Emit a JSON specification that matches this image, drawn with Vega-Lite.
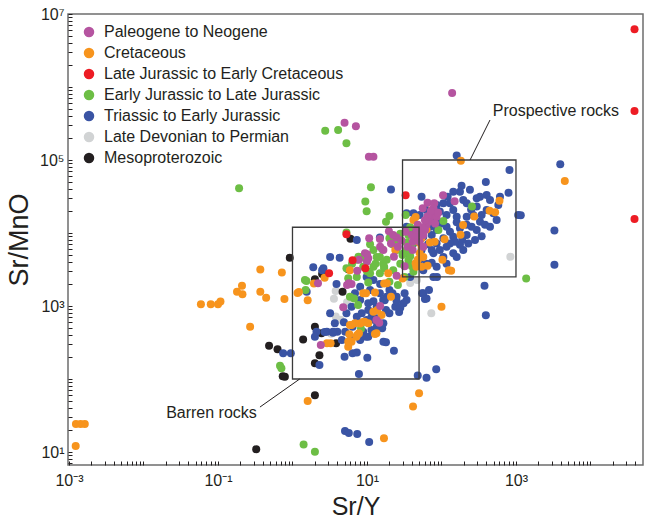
{
"$schema":"https://vega.github.io/schema/vega-lite/v6.json",
"width":575,"height":451,
"autosize":{"type":"none"},
"padding":{"left":68,"top":14,"right":6,"bottom":56},
"config":{
 "view":{"stroke":"#6e6e6e","strokeWidth":1.5},
 "font":"Liberation Sans",
 "axis":{"domain":false,"grid":false,"tickColor":"#231F20","tickSize":-4,"labelFont":"Liberation Sans","labelFontSize":16,"labelColor":"#231F20","titleFont":"Liberation Sans","titleFontSize":25,"titleFontWeight":"normal","titleColor":"#231F20","labelOverlap":false,"labelFlush":false}
},
"datasets":{
"pts":[
{"c":"D","x":840,"y":4740},{"c":"D","x":73,"y":795},{"c":"D","x":3.8,"y":1600},{"c":"D","x":3.6,"y":1260},{"c":"D","x":5.4,"y":1130},{"c":"D","x":4.4,"y":646},{"c":"D","x":3.8,"y":720},{"c":"D","x":3.3,"y":417},{"c":"D","x":38,"y":2070},{"c":"D","x":47,"y":2280},
{"c":"M","x":6.0,"y":8350},{"c":"M","x":0.92,"y":4590},{"c":"M","x":5.6,"y":3200},{"c":"M","x":2.0,"y":2320},{"c":"M","x":2.5,"y":2750},{"c":"M","x":4.7,"y":1570},{"c":"M","x":2.0,"y":521},{"c":"M","x":2.45,"y":423},{"c":"M","x":1.39,"y":349},{"c":"M","x":0.485,"y":286},{"c":"M","x":0.63,"y":255},{"c":"M","x":3.85,"y":308},{"c":"M","x":2.3,"y":211},{"c":"M","x":2.0,"y":164},{"c":"M","x":0.74,"y":109},{"c":"M","x":0.79,"y":107},{"c":"M","x":2.0,"y":60},{"c":"M","x":0.326,"y":10.9},
{"c":"B","x":160,"y":115000},{"c":"B","x":3930,"y":87300},{"c":"B","x":818,"y":73000},{"c":"B","x":394,"y":50000},{"c":"B","x":794,"y":35700},{"c":"B","x":1160,"y":17500},{"c":"B","x":3280,"y":10800},{"c":"B","x":3280,"y":3680},{"c":"B","x":378,"y":1900},{"c":"B","x":394,"y":745},{"c":"B","x":21,"y":39600},{"c":"B","x":1070,"y":17700},
{"c":"B","x":54,"y":31500},{"c":"B","x":121,"y":31500},{"c":"B","x":186,"y":44500},{"c":"B","x":177,"y":36800},{"c":"B","x":404,"y":33200},{"c":"B","x":329,"y":31500},{"c":"B","x":448,"y":28300},{"c":"B","x":218,"y":25500},{"c":"B","x":196,"y":28300},{"c":"B","x":130,"y":25500},{"c":"B","x":86,"y":24200},{"c":"B","x":63,"y":20700},{"c":"B","x":51,"y":17700},{"c":"B","x":42,"y":18600},{"c":"B","x":34,"y":18600},{"c":"B","x":579,"y":24200},{"c":"B","x":297,"y":23000},{"c":"B","x":404,"y":20700},{"c":"B","x":550,"y":15100},{"c":"B","x":346,"y":17700},{"c":"B","x":218,"y":16700},{"c":"B","x":160,"y":16700},{"c":"B","x":117,"y":17700},{"c":"B","x":86,"y":15100},{"c":"B","x":70,"y":12200},{"c":"B","x":117,"y":12200},{"c":"B","x":177,"y":11600},{"c":"B","x":254,"y":12200},{"c":"B","x":329,"y":14300},{"c":"B","x":448,"y":12200},{"c":"B","x":218,"y":9400},{"c":"B","x":144,"y":8900},{"c":"B","x":106,"y":8500},{"c":"B","x":86,"y":7200},{"c":"B","x":117,"y":6500},{"c":"B","x":177,"y":6900},{"c":"B","x":282,"y":8000},{"c":"B","x":196,"y":5850},{"c":"B","x":144,"y":5300},{"c":"B","x":106,"y":4700},{"c":"B","x":78,"y":5300},{"c":"B","x":63,"y":3800},{"c":"B","x":86,"y":3460},{"c":"B","x":57,"y":3100},{"c":"B","x":78,"y":2500},{"c":"B","x":51,"y":4300},{"c":"B","x":42,"y":3460},{"c":"B","x":57,"y":1490},{"c":"B","x":63,"y":1270},{"c":"B","x":54,"y":5850},{"c":"B","x":74,"y":9400},{"c":"B","x":152,"y":7600},{"c":"B","x":95,"y":5850},{"c":"B","x":38,"y":2500},{"c":"B","x":297,"y":11000},{"c":"B","x":86,"y":11000},{"c":"B","x":57,"y":8900},{"c":"B","x":42,"y":7200},{"c":"B","x":34,"y":5300},{"c":"B","x":218,"y":13000},{"c":"B","x":130,"y":10400},
{"c":"B","x":34,"y":12200},{"c":"B","x":40,"y":9900},{"c":"B","x":95,"y":19700},{"c":"B","x":144,"y":20700},{"c":"B","x":267,"y":17700},{"c":"B","x":497,"y":18600},{"c":"B","x":610,"y":31500},{"c":"B","x":297,"y":30000},{"c":"B","x":241,"y":39000},{"c":"B","x":144,"y":36800},{"c":"B","x":106,"y":25500},{"c":"B","x":130,"y":7200},{"c":"B","x":160,"y":4700},{"c":"B","x":117,"y":3800},{"c":"B","x":74,"y":3900},{"c":"B","x":346,"y":9000},{"c":"B","x":384,"y":13000},{"c":"B","x":229,"y":7200},{"c":"B","x":74,"y":5850},{"c":"B","x":100,"y":13500},{"c":"B","x":160,"y":14000},{"c":"B","x":250,"y":21000},{"c":"B","x":190,"y":8000},{"c":"B","x":66,"y":7000},
{"c":"B","x":7.3,"y":8000},{"c":"B","x":14.9,"y":8700},{"c":"B","x":3.2,"y":4700},{"c":"B","x":4.3,"y":4600},{"c":"B","x":1.9,"y":3400},{"c":"B","x":2.5,"y":3100},{"c":"B","x":3.9,"y":2000},{"c":"B","x":8.1,"y":1840},{"c":"B","x":11,"y":1660},{"c":"B","x":14.9,"y":1490},{"c":"B","x":20,"y":1660},{"c":"B","x":25,"y":1340},{"c":"B","x":32,"y":1490},{"c":"B","x":31,"y":1090},{"c":"B","x":24,"y":980},{"c":"B","x":18,"y":880},{"c":"B","x":13.5,"y":980},{"c":"B","x":10.4,"y":1090},{"c":"B","x":8.1,"y":1210},{"c":"B","x":6.2,"y":980},{"c":"B","x":5.3,"y":794},{"c":"B","x":7.3,"y":714},{"c":"B","x":9.9,"y":643},{"c":"B","x":13.5,"y":678},{"c":"B","x":20,"y":794},{"c":"B","x":3.2,"y":794},{"c":"B","x":3.7,"y":579},{"c":"B","x":2.9,"y":445},{"c":"B","x":2.1,"y":445},{"c":"B","x":2.0,"y":380},{"c":"B","x":8.9,"y":445},{"c":"B","x":11.5,"y":469},{"c":"B","x":8.1,"y":342},{"c":"B","x":16.6,"y":324},{"c":"B","x":6.2,"y":361},{"c":"B","x":5.1,"y":445},{"c":"B","x":18.4,"y":1340},{"c":"B","x":6.9,"y":1490},{"c":"B","x":10.4,"y":880},{"c":"B","x":1.55,"y":1570},{"c":"B","x":2.6,"y":3300},
{"c":"B","x":12.2,"y":2270},{"c":"B","x":9.9,"y":2500},{"c":"B","x":25,"y":1160},{"c":"B","x":34,"y":1210},{"c":"B","x":16.5,"y":1210},{"c":"B","x":12.2,"y":1160},{"c":"B","x":8.5,"y":794},{"c":"B","x":11.5,"y":714},{"c":"B","x":16.6,"y":580},{"c":"B","x":4.9,"y":600},{"c":"B","x":4.0,"y":445},{"c":"B","x":6.4,"y":520},{"c":"B","x":13.5,"y":520},{"c":"B","x":10.4,"y":380},{"c":"B","x":4.6,"y":342},{"c":"B","x":3.5,"y":445},{"c":"B","x":15,"y":2000},{"c":"B","x":22,"y":1500},{"c":"B","x":28,"y":950},
{"c":"B","x":5.0,"y":202},{"c":"B","x":6.4,"y":225},{"c":"B","x":7.3,"y":230},{"c":"B","x":7.8,"y":117},{"c":"B","x":10.1,"y":195},{"c":"B","x":23,"y":244},{"c":"B","x":18,"y":318},{"c":"B","x":48,"y":112},{"c":"B","x":63,"y":104},{"c":"B","x":85,"y":136},{"c":"B","x":0.75,"y":225},{"c":"B","x":0.95,"y":225},{"c":"B","x":2.3,"y":156},{"c":"B","x":3.5,"y":430},{"c":"B","x":2.7,"y":440},{"c":"B","x":9.7,"y":380},{"c":"B","x":16,"y":494},{"c":"B","x":12.6,"y":645},{"c":"B","x":27,"y":830},{"c":"B","x":17.3,"y":1200},{"c":"B","x":55,"y":1490},{"c":"B","x":60,"y":1250},{"c":"B","x":68,"y":1660},{"c":"B","x":87,"y":2500},{"c":"B","x":5.07,"y":19.4},{"c":"B","x":5.7,"y":18.2},{"c":"B","x":7.4,"y":17.7},{"c":"B","x":10.7,"y":13.7},
{"c":"G","x":0.192,"y":40900},{"c":"G","x":2.75,"y":252000},{"c":"G","x":4.1,"y":257000},{"c":"G","x":5.3,"y":169000},{"c":"G","x":11.3,"y":42300},{"c":"G","x":9.5,"y":27000},{"c":"G","x":9.9,"y":19800},{"c":"G","x":20,"y":17100},{"c":"G","x":18,"y":14300},{"c":"G","x":257,"y":23000},{"c":"G","x":1370,"y":2390},{"c":"G","x":5.3,"y":10200},{"c":"G","x":1.54,"y":2200},{"c":"G","x":1.5,"y":1660},{"c":"G","x":0.68,"y":152},{"c":"G","x":0.71,"y":140},{"c":"G","x":1.41,"y":12.7},{"c":"G","x":2.0,"y":10.1},{"c":"G","x":7.7,"y":4740},{"c":"G","x":8.3,"y":490},{"c":"G","x":33,"y":17700},{"c":"G","x":106,"y":14600},{"c":"G","x":91,"y":11000},{"c":"G","x":54,"y":10400},{"c":"G","x":36,"y":9400},{"c":"G","x":20,"y":8500},{"c":"G","x":12.2,"y":5850},{"c":"G","x":7.3,"y":4300},{"c":"G","x":9.9,"y":4300},{"c":"G","x":8.9,"y":3460},{"c":"G","x":12.2,"y":3460},{"c":"G","x":11,"y":2800},{"c":"G","x":14.9,"y":2800},{"c":"G","x":7.3,"y":2500},{"c":"G","x":5.6,"y":2400},{"c":"G","x":22.5,"y":3100},{"c":"G","x":28,"y":3800},{"c":"G","x":32,"y":2500},{"c":"G","x":42,"y":2950},{"c":"G","x":1.47,"y":2270},{"c":"G","x":5.9,"y":1340},{"c":"G","x":7.6,"y":1030},{"c":"G","x":26,"y":1940},{"c":"G","x":14.9,"y":4700},{"c":"G","x":18.4,"y":4300},{"c":"G","x":25,"y":5850},{"c":"G","x":34,"y":7400},{"c":"G","x":40,"y":6900},{"c":"G","x":51,"y":10400},{"c":"G","x":20,"y":2150},{"c":"G","x":16,"y":6000},{"c":"G","x":22,"y":7000},{"c":"G","x":30,"y":5000},{"c":"G","x":45,"y":8500},{"c":"G","x":38,"y":12000},{"c":"G","x":28,"y":9800},{"c":"G","x":13,"y":3800},{"c":"G","x":17,"y":3300},{"c":"G","x":10,"y":3000},{"c":"G","x":36,"y":4200},{"c":"G","x":40,"y":3500},
{"c":"G","x":5.3,"y":3300},{"c":"G","x":6.3,"y":3800},{"c":"G","x":8.5,"y":4700},{"c":"G","x":13.5,"y":4700},{"c":"G","x":16.5,"y":3800},{"c":"G","x":10.4,"y":2100},{"c":"G","x":6.7,"y":1270},{"c":"G","x":17,"y":3460},{"c":"G","x":31,"y":5300},{"c":"G","x":38,"y":4800},{"c":"G","x":34,"y":5850},{"c":"G","x":40,"y":3600},{"c":"G","x":24,"y":8000},{"c":"G","x":11,"y":7000},
{"c":"O","x":0.00124,"y":24.2},{"c":"O","x":0.00143,"y":24.2},{"c":"O","x":0.00163,"y":24.2},{"c":"O","x":0.00123,"y":12.1},{"c":"O","x":0.059,"y":1054},{"c":"O","x":0.08,"y":1054},{"c":"O","x":0.1,"y":1054},{"c":"O","x":0.108,"y":1150},{"c":"O","x":0.18,"y":1570},{"c":"O","x":0.213,"y":1445},{"c":"O","x":0.21,"y":1900},{"c":"O","x":0.37,"y":3160},{"c":"O","x":0.37,"y":1570},{"c":"O","x":0.443,"y":1300},{"c":"O","x":0.27,"y":521},{"c":"O","x":0.72,"y":2880},{"c":"O","x":0.78,"y":1250},{"c":"O","x":1.17,"y":1510},{"c":"O","x":1.22,"y":1560},{"c":"O","x":1.6,"y":1200},{"c":"O","x":1.6,"y":50},{"c":"O","x":41.5,"y":42},{"c":"O","x":50,"y":64},{"c":"O","x":16.9,"y":15.4},{"c":"O","x":182,"y":97700},{"c":"O","x":4520,"y":51500},{"c":"O","x":600,"y":27700},{"c":"O","x":525,"y":19200},{"c":"O","x":442,"y":20200},{"c":"O","x":100,"y":980},{"c":"O","x":135,"y":3050},{"c":"O","x":65,"y":3570},{"c":"O","x":45,"y":16600},{"c":"O","x":275,"y":16800},{"c":"O","x":195,"y":12900},{"c":"O","x":180,"y":9500},{"c":"O","x":110,"y":8200},{"c":"O","x":81,"y":7600},{"c":"O","x":6.2,"y":550},{"c":"O","x":7.8,"y":423},{"c":"O","x":7.2,"y":380},{"c":"O","x":9.3,"y":610},{"c":"O","x":8.1,"y":575},{"c":"O","x":13.4,"y":423},{"c":"O","x":5.6,"y":277},{"c":"O","x":6.2,"y":324},{"c":"O","x":3.25,"y":308},{"c":"O","x":13.8,"y":880},{"c":"O","x":9.7,"y":1490},{"c":"O","x":30,"y":2390},{"c":"O","x":18.5,"y":2050},{"c":"O","x":54,"y":3460},{"c":"O","x":45,"y":3840},{"c":"O","x":63,"y":11200},{"c":"O","x":54,"y":8500},{"c":"O","x":54,"y":6500},{"c":"O","x":51,"y":5300},{"c":"O","x":48,"y":4300},{"c":"O","x":46,"y":3460},{"c":"O","x":70,"y":7400},{"c":"O","x":103,"y":4300},{"c":"O","x":126,"y":3100},{"c":"O","x":42,"y":15100},{"c":"O","x":24,"y":5850},{"c":"O","x":19.3,"y":2800},{"c":"O","x":17,"y":2040},{"c":"O","x":5.9,"y":3100},{"c":"O","x":2.7,"y":2440},{"c":"O","x":1.94,"y":2040},{"c":"O","x":8.9,"y":1490},{"c":"O","x":12.8,"y":1530},{"c":"O","x":21,"y":1340},{"c":"O","x":12.2,"y":836},{"c":"O","x":15.7,"y":753},{"c":"O","x":5.9,"y":550},{"c":"O","x":6.9,"y":580},{"c":"O","x":8.9,"y":604},{"c":"O","x":10.4,"y":580},{"c":"O","x":5.8,"y":409},{"c":"O","x":7.4,"y":401},{"c":"O","x":12.8,"y":413},{"c":"O","x":5.6,"y":324},{"c":"O","x":2.9,"y":308},{"c":"O","x":74,"y":20700},{"c":"O","x":57,"y":4700},{"c":"O","x":50,"y":7500},
{"c":"P","x":139,"y":828000},{"c":"P","x":5.0,"y":324000},{"c":"P","x":7.1,"y":289000},{"c":"P","x":10.6,"y":111000},{"c":"P","x":12.2,"y":111000},{"c":"P","x":105,"y":32800},{"c":"P","x":150,"y":27200},{"c":"P","x":65,"y":26000},{"c":"P","x":80,"y":25500},{"c":"P","x":19.7,"y":10600},{"c":"P","x":10.7,"y":8450},{"c":"P","x":15,"y":6500},{"c":"P","x":23,"y":4740},{"c":"P","x":10,"y":5100},{"c":"P","x":10,"y":4070},{"c":"P","x":5.7,"y":2050},{"c":"P","x":6.2,"y":2000},{"c":"P","x":2.2,"y":2050},{"c":"P","x":4.8,"y":960},{"c":"P","x":15,"y":1000},{"c":"P","x":13.4,"y":645},{"c":"P","x":2.4,"y":292},{"c":"P","x":78,"y":21800},{"c":"P","x":74,"y":18600},{"c":"P","x":70,"y":15900},{"c":"P","x":67,"y":14300},{"c":"P","x":63,"y":12900},{"c":"P","x":60,"y":11000},{"c":"P","x":57,"y":9400},{"c":"P","x":51,"y":7600},{"c":"P","x":57,"y":6500},{"c":"P","x":56,"y":21800},{"c":"P","x":86,"y":16700},{"c":"P","x":82,"y":13500},{"c":"P","x":25,"y":8700},{"c":"P","x":33,"y":10400},{"c":"P","x":41,"y":7600},{"c":"P","x":41,"y":5850},{"c":"P","x":16.6,"y":5850},{"c":"P","x":21,"y":7200},{"c":"P","x":26,"y":6500},{"c":"P","x":9.4,"y":5300},{"c":"P","x":10.4,"y":4500},{"c":"P","x":7.8,"y":4300},{"c":"P","x":7.4,"y":3050},{"c":"P","x":32,"y":3500},{"c":"P","x":25,"y":2600},{"c":"P","x":5.4,"y":1940},{"c":"P","x":65,"y":17000},{"c":"P","x":72,"y":20000},{"c":"P","x":60,"y":15000},{"c":"P","x":55,"y":12000},{"c":"P","x":50,"y":10000},{"c":"P","x":45,"y":9000},{"c":"P","x":48,"y":13000},{"c":"P","x":90,"y":19000},{"c":"P","x":14.6,"y":592},{"c":"P","x":14.9,"y":8300},{"c":"P","x":22.5,"y":9400},{"c":"P","x":29,"y":7900},{"c":"P","x":35,"y":6500},{"c":"P","x":40,"y":9400},{"c":"P","x":46,"y":11000},
{"c":"R","x":39000,"y":6200000},{"c":"R","x":39000,"y":469000},{"c":"R","x":39000,"y":15600},{"c":"R","x":33,"y":32800},{"c":"R","x":5.3,"y":9600},{"c":"R","x":6.4,"y":4250},{"c":"R","x":9.5,"y":3300},{"c":"R","x":3.1,"y":2800}
],
"names":[
{"c":"P","age":"Paleogene to Neogene"},{"c":"O","age":"Cretaceous"},{"c":"R","age":"Late Jurassic to Early Cretaceous"},{"c":"G","age":"Early Jurassic to Late Jurassic"},{"c":"B","age":"Triassic to Early Jurassic"},{"c":"D","age":"Late Devonian to Permian"},{"c":"M","age":"Mesoproterozoic"}
],
"boxes":[{"x":1,"x2":50,"y":100,"y2":12000},{"x":30,"x2":1000,"y":2500,"y2":100000}],
"leaders":[{"x":242,"y":100000,"x2":448,"y2":353000},{"x":0.366,"y":41.3,"x2":1.25,"y2":100}],
"notes":[{"x":3440,"y":469000,"t":"Prospective rocks"},{"x":0.0818,"y":34.2,"t":"Barren rocks"}]
},
"layer":[
{
 "data":{"name":"pts"},
 "transform":[{"lookup":"c","from":{"data":{"name":"names"},"key":"c","fields":["age"]}}],
 "mark":{"type":"point","filled":true,"size":64,"opacity":1,"strokeWidth":0},
 "encoding":{
  "x":{"field":"x","type":"quantitative","scale":{"type":"log","domain":[0.00097,50700],"nice":false},
   "axis":{"title":"Sr/Y","values":[0.001,0.002,0.003,0.004,0.005,0.006,0.007,0.008,0.009,0.01,0.02,0.03,0.04,0.05,0.06,0.07,0.08,0.09,0.1,0.2,0.3,0.4,0.5,0.6,0.7,0.8,0.9,1,2,3,4,5,6,7,8,9,10,20,30,40,50,60,70,80,90,100,200,300,400,500,600,700,800,900,1000,2000,3000,4000,5000,6000,7000,8000,9000,10000,20000,30000,40000],
   "labelExpr":"datum.value == 0.001 ? '10⁻³' : datum.value == 0.1 ? '10⁻¹' : datum.value == 10 ? '10¹' : datum.value == 1000 ? '10³' : ''","labelPadding":11,"titlePadding":6}},
  "y":{"field":"y","type":"quantitative","scale":{"type":"log","domain":[6.64,10000000],"nice":false},
   "axis":{"title":"Sr/MnO","titleFontSize":27,"values":[7,8,9,10,20,30,40,50,60,70,80,90,100,200,300,400,500,600,700,800,900,1000,2000,3000,4000,5000,6000,7000,8000,9000,10000,20000,30000,40000,50000,60000,70000,80000,90000,100000,200000,300000,400000,500000,600000,700000,800000,900000,1000000,2000000,3000000,4000000,5000000,6000000,7000000,8000000,9000000,10000000],
   "labelExpr":"datum.value == 10 ? '10¹' : datum.value == 1000 ? '10³' : datum.value == 100000 ? '10⁵' : datum.value == 10000000 ? '10⁷' : ''","labelPadding":8,"titlePadding":6}},
  "color":{"field":"age","type":"nominal",
   "scale":{"domain":["Paleogene to Neogene","Cretaceous","Late Jurassic to Early Cretaceous","Early Jurassic to Late Jurassic","Triassic to Early Jurassic","Late Devonian to Permian","Mesoproterozoic"],
            "range":["#B554A0","#F7941D","#ED1C24","#6DBE45","#3A54A4","#D1D3D4","#231F20"]},
   "legend":{"title":null,"orient":"none","legendX":13,"legendY":10,"symbolType":"circle","symbolSize":110,"symbolStrokeWidth":0,"labelFontSize":16,"labelFont":"Liberation Sans","labelColor":"#231F20","rowPadding":5,"labelOffset":7,"padding":0,"labelLimit":400}}
 }
},
{
 "data":{"name":"boxes"},
 "mark":{"type":"rect","fillOpacity":0,"stroke":"#3a3a3a","strokeWidth":1.3},
 "encoding":{"x":{"field":"x","type":"quantitative"},"x2":{"field":"x2"},"y":{"field":"y","type":"quantitative"},"y2":{"field":"y2"}}
},
{
 "data":{"name":"leaders"},
 "mark":{"type":"rule","stroke":"#231F20","strokeWidth":1},
 "encoding":{"x":{"field":"x","type":"quantitative"},"x2":{"field":"x2"},"y":{"field":"y","type":"quantitative"},"y2":{"field":"y2"}}
},
{
 "data":{"name":"notes"},
 "mark":{"type":"text","fontSize":16,"font":"Liberation Sans","color":"#231F20","align":"center","baseline":"middle"},
 "encoding":{"x":{"field":"x","type":"quantitative"},"y":{"field":"y","type":"quantitative"},"text":{"field":"t"}}
}
]
}
